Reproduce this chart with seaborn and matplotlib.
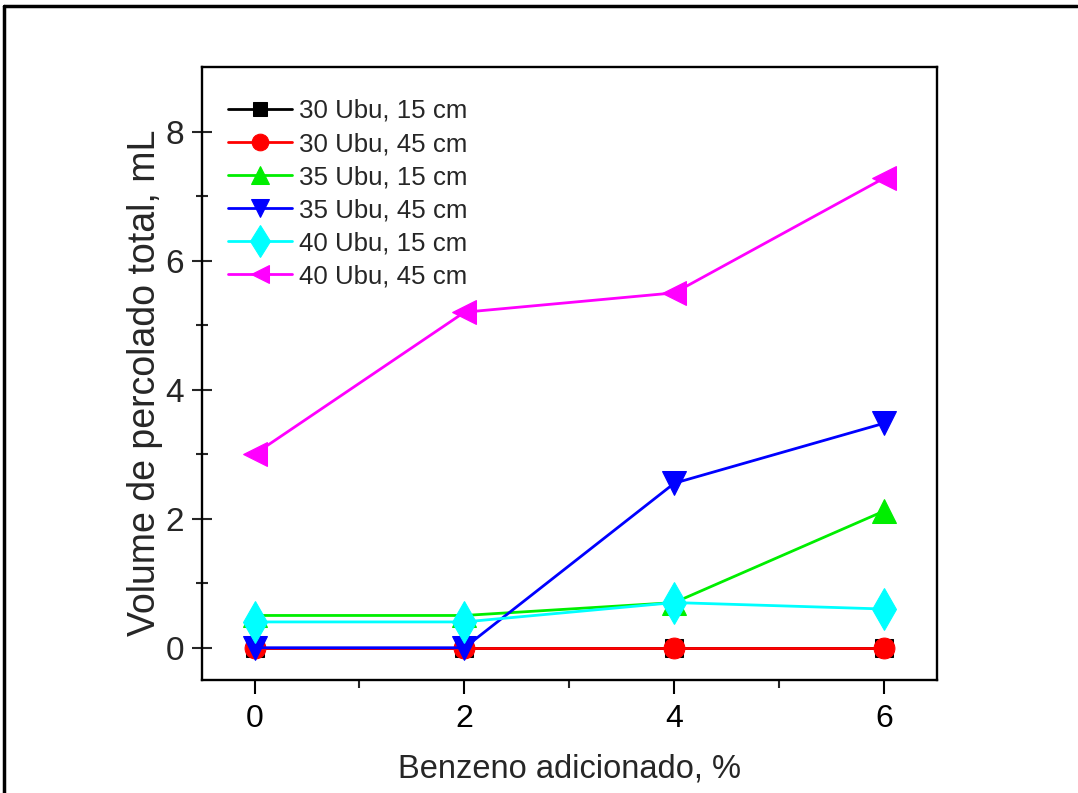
import matplotlib
matplotlib.use("Agg")
import matplotlib.pyplot as plt
from matplotlib.lines import Line2D
import seaborn as sns
import pandas as pd

benzeno = [0, 2, 4, 6]
series_names = ["30 Ubu, 15 cm", "30 Ubu, 45 cm", "35 Ubu, 15 cm",
                "35 Ubu, 45 cm", "40 Ubu, 15 cm", "40 Ubu, 45 cm"]
v_30_15 = [0.0, 0.0, 0.0, 0.0]
v_30_45 = [0.0, 0.0, 0.0, 0.0]
v_35_15 = [0.5, 0.5, 0.7, 2.12]
v_35_45 = [0.0, 0.0, 2.55, 3.48]
v_40_15 = [0.4, 0.4, 0.7, 0.6]
v_40_45 = [3.0, 5.2, 5.5, 7.28]
values = [v_30_15, v_30_45, v_35_15, v_35_45, v_40_15, v_40_45]

colors = ["#000000", "#ff0000", "#00ee00", "#0000ff", "#00ffff", "#ff00ff"]
markers = ["s", "o", "^", "v", "d", "<"]
msizes = [13, 15, 17, 17, 21, 17]

sns.set_style("white")
plt.rcParams["font.family"] = ["Liberation Sans", "DejaVu Sans"]

fig = plt.figure(figsize=(10.78, 7.93), dpi=100)
ax = fig.add_axes([0.1874, 0.1425, 0.6816, 0.773])

for name, vals, c, m, ms in zip(series_names, values, colors, markers, msizes):
    df = pd.DataFrame({"x": benzeno, "y": vals})
    sns.lineplot(data=df, x="x", y="y", color=c, marker=m, markersize=ms,
                 markeredgecolor=c, linewidth=2.0, label=name, ax=ax)

ax.set_xlim(-0.5, 6.5)
ax.set_ylim(-0.5, 9.0)
ax.set_xticks([0, 2, 4, 6])
ax.set_xticks([1, 3, 5], minor=True)
ax.set_yticks([0, 2, 4, 6, 8])
ax.set_yticks([1, 3, 5, 7], minor=True)
ax.tick_params(axis="x", which="major", direction="out", length=10, width=1.5,
               labelsize=23, pad=7, colors="black", bottom=True)
ax.tick_params(axis="x", which="minor", direction="out", length=6, width=1.5,
               bottom=True)
ax.tick_params(axis="y", which="major", direction="inout", length=14, width=1.5,
               labelsize=24, pad=6, left=True)
ax.tick_params(axis="y", which="minor", direction="inout", length=8, width=1.5,
               left=True)
for sp in ax.spines.values():
    sp.set_visible(True)
    sp.set_color("black")
    sp.set_linewidth(1.7)

ax.set_xlabel("Benzeno adicionado, %", fontsize=23.5, labelpad=14)
ax.set_ylabel("Volume de percolado total, mL", fontsize=27)
ax.yaxis.set_label_coords(-0.053, 0.4845)

leg = ax.legend(loc="upper left", bbox_to_anchor=(0.0, 0.99), frameon=False,
                fontsize=18.6, handlelength=2.5, handletextpad=0.25,
                labelspacing=0.35, borderaxespad=0.6, markerscale=0.8)

# figure frame (top and left edges)
fig.add_artist(Line2D([0.004, 0.999], [0.992, 0.992], color="black", lw=2.5,
                      transform=fig.transFigure))
fig.add_artist(Line2D([0.004, 0.004], [0.0, 0.992], color="black", lw=2.5,
                      transform=fig.transFigure))

fig.savefig("out.png", dpi=100)
